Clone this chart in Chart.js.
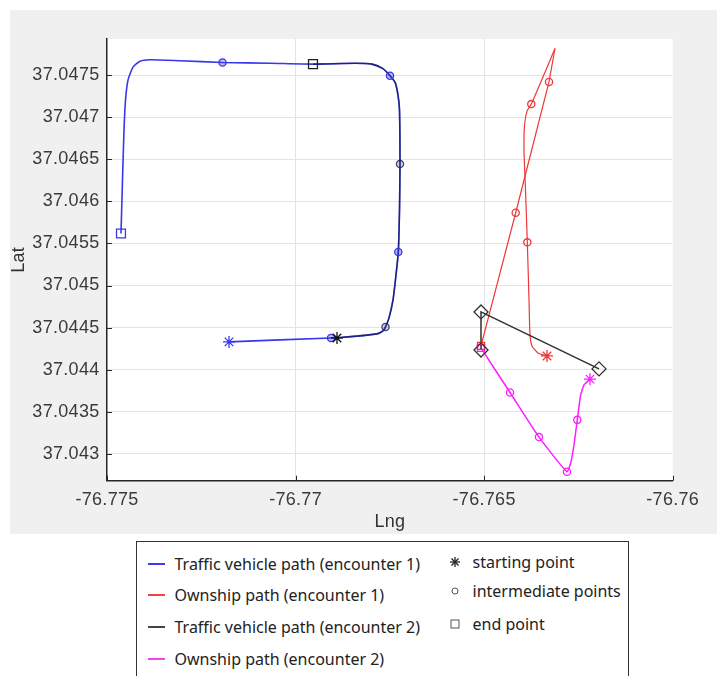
<!DOCTYPE html>
<html><head><meta charset="utf-8">
<script src="https://cdn.jsdelivr.net/npm/chart.js@4"></script>
<style>
html,body{margin:0;padding:0;background:#fff;}
#wrap{position:relative;width:717px;height:676px;overflow:hidden;}
#c{position:absolute;left:0;top:0;}
#legend{position:absolute;left:136px;top:541px;width:493px;height:150px;border:1.5px solid #333;box-sizing:border-box;font-family:'Noto Sans';font-size:16px;color:#222;background:#fff;}
.item{position:absolute;white-space:nowrap;line-height:20px;height:20px;}
.ln{position:absolute;width:17px;height:2px;}
.mk{position:absolute;width:12px;height:12px;}
</style></head>
<body>
<div id="wrap">
<canvas id="c" width="717" height="676"></canvas>
<div id="legend">
  <div class="ln" style="left:10.5px;top:20.8px;background:#3c3cf0"></div>
  <div class="item" style="left:37.5px;top:11.8px">Traffic vehicle path (encounter 1)</div>
  <div class="ln" style="left:10.5px;top:51.5px;background:#f04444"></div>
  <div class="item" style="left:37.5px;top:42.5px">Ownship path (encounter 1)</div>
  <div class="ln" style="left:10.5px;top:84.2px;background:#444"></div>
  <div class="item" style="left:37.5px;top:75.2px">Traffic vehicle path (encounter 2)</div>
  <div class="ln" style="left:10.5px;top:115.8px;background:#f044f0"></div>
  <div class="item" style="left:37.5px;top:106.8px">Ownship path (encounter 2)</div>

  <svg class="mk" style="left:311.5px;top:14.2px" viewBox="0 0 12 12"><g stroke="#222" stroke-width="1.3"><line x1="6" y1="1" x2="6" y2="11"/><line x1="1" y1="6" x2="11" y2="6"/><line x1="2.5" y1="2.5" x2="9.5" y2="9.5"/><line x1="9.5" y1="2.5" x2="2.5" y2="9.5"/></g></svg>
  <div class="item" style="left:335.5px;top:10.2px">starting point</div>
  <svg class="mk" style="left:311.5px;top:42.5px" viewBox="0 0 12 12"><circle cx="6" cy="6" r="3" fill="none" stroke="#555" stroke-width="1"/></svg>
  <div class="item" style="left:335.5px;top:38.5px">intermediate points</div>
  <svg class="mk" style="left:311.5px;top:75.5px" viewBox="0 0 12 12"><rect x="2" y="2" width="8" height="8" fill="none" stroke="#555" stroke-width="1"/></svg>
  <div class="item" style="left:335.5px;top:71.5px">end point</div>
</div>
</div>
<script>
// ---- axis ranges & ticks ----
const X_MIN = -76.775, X_MAX = -76.76;
const Y_MIN = 37.04268, Y_MAX = 37.04793;
const xTickValues = [-76.775, -76.77, -76.765, -76.76];
const xTickLabels = ['-76.775', '-76.77', '-76.765', '-76.76'];
const yTickValues = [37.043, 37.0435, 37.044, 37.0445, 37.045, 37.0455, 37.046, 37.0465, 37.047, 37.0475];
const yTickLabels = ['37.043', '37.0435', '37.044', '37.0445', '37.045', '37.0455', '37.046', '37.0465', '37.047', '37.0475'];

// ---- traffic vehicle path (encounter 1) ----
const traffic1Lng = [-76.771765, -76.769060, -76.768901, -76.767841, -76.767682, -76.767615, -76.767522, -76.767416, -76.767337, -76.767276, -76.767244, -76.767231, -76.767244, -76.767284, -76.767363, -76.767496, -76.767682, -76.767973, -76.768424, -76.769538, -76.770678, -76.771937, -76.773064, -76.773860, -76.774125, -76.774311, -76.774443, -76.774509, -76.774549, -76.774589, -76.774629];
const traffic1Lat = [37.044330, 37.044377, 37.044377, 37.044425, 37.044460, 37.044508, 37.044615, 37.044828, 37.045125, 37.045398, 37.045897, 37.046443, 37.047084, 37.047263, 37.047417, 37.047494, 37.047577, 37.047631, 37.047642, 37.047631, 37.047642, 37.047651, 37.047672, 37.047684, 37.047666, 37.047595, 37.047441, 37.047203, 37.046847, 37.046253, 37.045618];
const traffic1StartLng = [-76.771765], traffic1StartLat = [37.044330];
const traffic1EndLng = [-76.774629], traffic1EndLat = [37.045618];
const traffic1MidLng = [-76.769060, -76.767276, -76.767496, -76.771937];
const traffic1MidLat = [37.044377, 37.045398, 37.047494, 37.047651];

// ---- traffic vehicle path (encounter 2), overlapping road ----
const traffic2Lng = [-76.768901, -76.767841, -76.767682, -76.767615, -76.767522, -76.767416, -76.767337, -76.767276, -76.767244, -76.767231, -76.767244, -76.767284, -76.767363, -76.767496, -76.767682, -76.767973, -76.768424, -76.769538];
const traffic2Lat = [37.044377, 37.044425, 37.044460, 37.044508, 37.044615, 37.044828, 37.045125, 37.045398, 37.045897, 37.046443, 37.047084, 37.047263, 37.047417, 37.047494, 37.047577, 37.047631, 37.047642, 37.047631];
const traffic2StartLng = [-76.768901], traffic2StartLat = [37.044377];
const traffic2EndLng = [-76.769538], traffic2EndLat = [37.047631];
const traffic2MidLng = [-76.767615, -76.767231];
const traffic2MidLat = [37.044508, 37.046443];

// ---- ownship path (encounter 1) ----
const own1UpLng = [-76.763333, -76.763572, -76.763731, -76.763784, -76.763810, -76.763855, -76.763903, -76.763943, -76.763929, -76.763863, -76.763749, -76.763121];
const own1UpLat = [37.044163, 37.044199, 37.044282, 37.044413, 37.044828, 37.045513, 37.046134, 37.046609, 37.046906, 37.047073, 37.047156, 37.047817];
const own1DownLng = [-76.763121, -76.763280, -76.764163, -76.765083];
const own1DownLat = [37.047817, 37.047420, 37.045865, 37.044282];
const own1MidLng = [-76.763855, -76.763749, -76.763280, -76.764163];
const own1MidLat = [37.045513, 37.047156, 37.047420, 37.045865];

// ---- ownship path (encounter 2) ----
const own2Lng = [-76.762193, -76.762352, -76.762445, -76.762530, -76.762617, -76.762697, -76.762803, -76.763545, -76.764314, -76.765083];
const own2Lat = [37.043887, 37.043819, 37.043688, 37.043403, 37.043107, 37.042905, 37.042786, 37.043198, 37.043728, 37.044258];
const own2MidLng = [-76.762530, -76.762803, -76.763545, -76.764314];
const own2MidLat = [37.043403, 37.042786, 37.043198, 37.043728];

// ---- diamond markers (encounter 2) ----
const diamondLng = [-76.765083, -76.765083, -76.761954];
const diamondLat = [37.044234, 37.044686, 37.044009];

const pts = (xs, ys) => xs.map((x, i) => ({x: x, y: ys[i]}));

const BLUE = 'rgb(55,55,235)', RED = 'rgb(238,55,55)', MAG = 'rgb(255,30,255)', BLK = '#303030';

function markers(xs, ys, style, r, color, fill) {
  return {data: pts(xs, ys), showLine: false, pointStyle: style, pointRadius: r,
    pointBorderColor: color, pointBackgroundColor: fill || 'rgba(0,0,0,0)', pointBorderWidth: 1.3};
}
function path(xs, ys, color, w, t) {
  return {data: pts(xs, ys), showLine: true, pointRadius: 0, borderColor: color, borderWidth: w, tension: t, fill: false};
}

const datasets = [
  markers(diamondLng, diamondLat, 'rectRot', 7, BLK),
  markers(traffic2StartLng, traffic2StartLat, 'star', 6, '#111'),
  markers(traffic2EndLng, traffic2EndLat, 'rect', 6.3, '#222'),
  markers(traffic2MidLng, traffic2MidLat, 'circle', 3.6, 'rgba(40,40,90,0.85)', 'rgba(80,80,120,0.25)'),
  markers(traffic1StartLng, traffic1StartLat, 'star', 6, BLUE),
  markers(traffic1EndLng, traffic1EndLat, 'rect', 6.3, BLUE),
  markers(traffic1MidLng, traffic1MidLat, 'circle', 3.6, BLUE, 'rgba(60,60,230,0.35)'),
  markers([own1UpLng[0]], [own1UpLat[0]], 'star', 6, RED),
  markers(own1MidLng, own1MidLat, 'circle', 3.6, RED),
  markers([own1DownLng[3]], [own1DownLat[3]], 'rect', 5, RED),
  markers([own2Lng[0]], [own2Lat[0]], 'star', 6, MAG),
  markers(own2MidLng, own2MidLat, 'circle', 3.6, MAG),
  markers([own2Lng[9]], [own2Lat[9]], 'rect', 5, MAG),
  path(diamondLng, diamondLat, BLK, 1.5, 0),
  path(traffic2Lng, traffic2Lat, 'rgba(15,15,50,0.55)', 1.6, 0.2),
  path(traffic1Lng, traffic1Lat, BLUE, 1.6, 0.2),
  path(own1UpLng, own1UpLat, RED, 1.2, 0.2),
  path(own1DownLng, own1DownLat, RED, 1.2, 0),
  path(own2Lng, own2Lat, MAG, 1.5, 0.15)
];

const bgPlugin = {
  id: 'bg',
  beforeDraw(chart) {
    const c = chart.ctx, a = chart.chartArea;
    c.fillStyle = '#fff'; c.fillRect(0, 0, chart.width, chart.height);
    c.fillStyle = '#f0f0f0'; c.fillRect(10, 10, 707, 524);
    c.fillStyle = '#fff'; c.fillRect(a.left, a.top, a.right - a.left, a.bottom - a.top);
    if ('letterSpacing' in c) c.letterSpacing = '0.3px';
  }
};
const tickPlugin = {
  id: 'inticks',
  afterDraw(chart) {
    const c = chart.ctx, a = chart.chartArea, xs = chart.scales.x, ys = chart.scales.y;
    c.save();
    c.strokeStyle = '#262626'; c.lineWidth = 1;
    c.beginPath();
    yTickValues.forEach(v => { const p = Math.round(ys.getPixelForValue(v)) + 0.5; c.moveTo(a.left, p); c.lineTo(a.left + 5, p); });
    xTickValues.forEach(v => { const p = Math.round(xs.getPixelForValue(v)) + 0.5; c.moveTo(p, a.bottom); c.lineTo(p, a.bottom - 5); });
    c.stroke();
    c.restore();
  }
};

const tickFont = {family: "'Liberation Sans', Arial, sans-serif", size: 18};
const XH = 56;
new Chart(document.getElementById('c'), {
  type: 'scatter',
  data: {datasets: datasets},
  options: {
    responsive: false, animation: false, devicePixelRatio: 1,
    layout: {padding: {left: 8, top: 39, right: 44.3, bottom: 676 - 480.7 - XH}},
    plugins: {legend: {display: false}, tooltip: {enabled: false}},
    scales: {
      x: {
        type: 'linear', min: X_MIN, max: X_MAX,
        afterBuildTicks: s => { s.ticks = xTickValues.map(v => ({value: v})); },
        afterFit: s => { s.height = XH; },
        grid: {color: ctx => (ctx.index === 0 || ctx.index === xTickValues.length - 1) ? 'rgba(0,0,0,0)' : '#e3e3e3', drawTicks: false, lineWidth: 1},
        border: {display: true, color: '#262626', width: 1.5},
        ticks: {padding: 8.5, color: '#3a3a3a', font: tickFont, autoSkip: false, maxRotation: 0, callback: (v, i) => xTickLabels[i]},
        title: {display: true, text: 'Lng', color: '#333', font: tickFont, padding: {top: 0, bottom: 3.5}}
      },
      y: {
        type: 'linear', min: Y_MIN, max: Y_MAX,
        afterBuildTicks: s => { s.ticks = yTickValues.map(v => ({value: v})); },
        afterFit: s => { s.width = 99; },
        grid: {color: '#e3e3e3', drawTicks: false, lineWidth: 1},
        border: {display: true, color: '#262626', width: 1.5},
        ticks: {padding: 7.5, color: '#3a3a3a', font: tickFont, autoSkip: false, callback: (v, i) => yTickLabels[i]},
        title: {display: true, text: 'Lat', color: '#333', font: tickFont, padding: {top: 0, bottom: 0}}
      }
    }
  },
  plugins: [bgPlugin, tickPlugin]
});
</script>
</body></html>
